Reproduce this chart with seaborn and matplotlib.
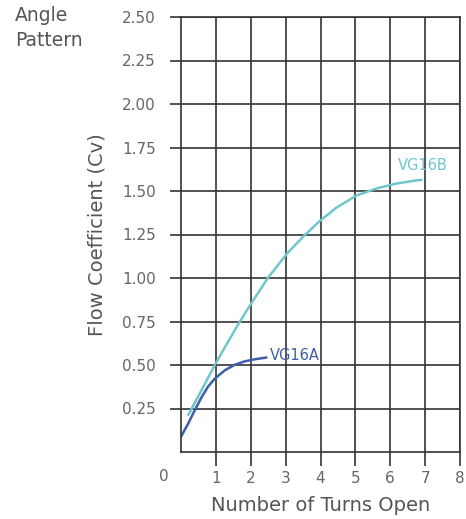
import matplotlib
matplotlib.use("Agg")
import matplotlib.pyplot as plt
import seaborn as sns
import pandas as pd

# ---- data ----
vg16a_turns = [0.0, 0.21, 0.40, 0.59, 0.78, 0.97, 1.26, 1.55, 1.83, 2.12, 2.45]
vg16a_cv = [0.088, 0.165, 0.242, 0.315, 0.377, 0.422, 0.470, 0.502, 0.521, 0.533, 0.543]

vg16b_turns = [0.21, 0.59, 0.97, 1.26, 1.6, 2.0, 2.5, 3.03, 3.5, 3.98, 4.46, 5.03, 5.61, 6.18, 6.75, 6.9]
vg16b_cv = [0.213, 0.356, 0.50, 0.603, 0.72, 0.850, 1.003, 1.138, 1.237, 1.328, 1.405, 1.474, 1.515, 1.543, 1.561, 1.564]

x_ticks = [1, 2, 3, 4, 5, 6, 7, 8]
y_ticks = [0.25, 0.50, 0.75, 1.00, 1.25, 1.50, 1.75, 2.00, 2.25, 2.50]

colors = {"VG16A": "#3d5ea8", "VG16B": "#6fc6cc"}

df = pd.concat([
    pd.DataFrame({"turns": vg16a_turns, "cv": vg16a_cv, "series": "VG16A"}),
    pd.DataFrame({"turns": vg16b_turns, "cv": vg16b_cv, "series": "VG16B"}),
], ignore_index=True)

sns.set_theme(style="white")
plt.rcParams["font.family"] = ["DejaVu Sans"]

fig = plt.figure(figsize=(4.66, 5.19), dpi=100)
ax = fig.add_axes([181 / 466, 67 / 519, 279 / 466, 435 / 519])

sns.lineplot(data=df, x="turns", y="cv", hue="series", palette=colors,
             linewidth=1.8, ax=ax, legend=False, sort=True, estimator=None)
for ln in ax.lines:
    ln.set_solid_joinstyle("round")
    ln.set_solid_capstyle("round")

ax.set_xlim(0, 8)
ax.set_ylim(0, 2.5)
ax.set_xticks(x_ticks)
ax.set_yticks(y_ticks)
ax.set_yticklabels([f"{v:.2f}" for v in y_ticks])

gridc = "#333333"
ax.grid(True, color=gridc, linewidth=1.2)
ax.set_axisbelow(True)
for s in ax.spines.values():
    s.set_color(gridc)
    s.set_linewidth(1.2)

ax.tick_params(axis="x", direction="out", length=10, width=1.2, color=gridc,
               labelsize=11, labelcolor="#666666", pad=4, bottom=True)
ax.tick_params(axis="y", direction="out", length=8, width=1.2, color=gridc,
               labelsize=11, labelcolor="#666666", pad=10, left=True)

ax.text(-0.5, -0.1, "0", ha="center", va="top", fontsize=11, color="#666666",
        transform=ax.transData, clip_on=False)

ax.set_xlabel("Number of Turns Open", fontsize=14, color="#555555", labelpad=7)
ax.set_ylabel("Flow Coefficient (Cv)", fontsize=14, color="#555555", labelpad=11)

ax.text(2.55, 0.555, "VG16A", color=colors["VG16A"],
        fontsize=10.5, ha="left", va="center")
ax.text(6.22, 1.645, "VG16B", color=colors["VG16B"],
        fontsize=10.5, ha="left", va="center")

fig.text(15 / 466, 1 - 6 / 519, "Angle\nPattern", fontsize=13.5, color="#555555",
         ha="left", va="top", linespacing=1.4)

fig.savefig("out.png", dpi=100)
